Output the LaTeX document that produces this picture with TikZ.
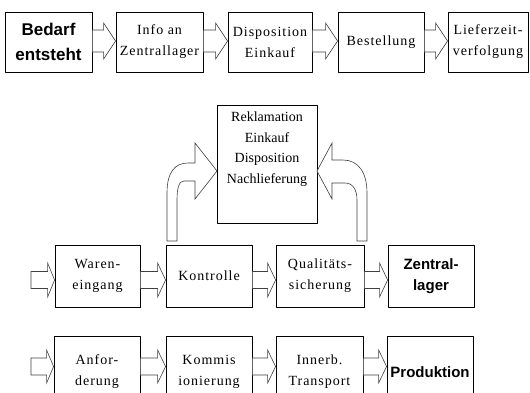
\documentclass[tikz,border=0pt]{standalone}
\usepackage{fontspec}
\setmainfont{Liberation Serif}
\newfontfamily\boxfont[LetterSpace=7]{Liberation Serif}
\newfontfamily\headfont{Liberation Sans}
\usetikzlibrary{calc}

\tikzset{
  procbox/.style={draw,line width=.8pt,fill=white,inner sep=0pt,align=center,
    minimum width=86pt,font=\boxfont\fontsize{14}{21}\selectfont},
  headbox/.style={procbox,font=\headfont\bfseries\fontsize{15}{21}\selectfont},
  arrowline/.style={draw=black!75,line width=.6pt,fill=white,line join=miter},
}

% block arrow: from, to, shaft half height, head half height, head length
\newcommand\blkarrow[5]{%
  \draw[arrowline] let \p1=(#1), \p2=(#2) in
    (\x1,\y2+#3pt) -- (\x2-#5pt,\y2+#3pt) -- (\x2-#5pt,\y2+#4pt) -- (\x2,\y2)
    -- (\x2-#5pt,\y2-#4pt) -- (\x2-#5pt,\y2-#3pt) -- (\x1,\y2-#3pt) -- cycle;}

\begin{document}
\begin{tikzpicture}[x=1pt,y=-1pt,line join=round]
  \path[use as bounding box] (0,0) rectangle (530,392);
  \clip (0,0) rectangle (530,392);

  % first row
  \node[headbox,minimum width=87pt,minimum height=60pt,
    font=\headfont\bfseries\fontsize{17}{25}\selectfont] (bedarf) at (48.5,42) {Bedarf\\entsteht};
  \node[procbox,minimum width=87pt,minimum height=60pt] (info) at (159.5,42) {Info an\\Zentrallager};
  \node[procbox,minimum width=84pt,minimum height=60pt] (dispo) at (270,42) {Disposition\\Einkauf};
  \node[procbox,minimum height=60pt] (bestell) at (381,42) {Bestellung};
  \node[procbox,minimum width=80pt,minimum height=60pt] (liefer) at (488,42) {Lieferzeit-\\verfolgung};

  \blkarrow{bedarf.east}{[yshift=1pt]info.west}{11}{18}{12}
  \blkarrow{info.east}{[yshift=1pt]dispo.west}{11}{18}{12}
  \blkarrow{dispo.east}{[yshift=1pt]bestell.west}{11}{18}{12}
  \blkarrow{bestell.east}{[yshift=1pt]liefer.west}{11}{18}{12}

  % complaint box
  \node[draw,line width=.8pt,fill=white,minimum width=100pt,minimum height=118pt] (rekl) at (267,164) {};
  \node[align=center,inner sep=0pt,font=\fontsize{14}{20.5}\selectfont,anchor=north]
    (rekltext) at (267,112) {Reklamation\\Einkauf\\Disposition\\Nachlieferung};

  % second row
  \coordinate (inwaren) at (31,280);
  \node[procbox,minimum width=85pt,minimum height=62pt] (waren) at (97.5,276) {Waren-\\eingang};
  \node[procbox,minimum height=62pt] (kontr) at (209,276) {Kontrolle};
  \node[procbox,minimum width=88pt,minimum height=62pt] (quali) at (320,276) {Qualitäts-\\sicherung};
  \node[headbox,minimum height=62pt] (zentral) at (431,276) {Zentral-\\lager};

  \blkarrow{inwaren}{[yshift=-4pt]waren.west}{8.5}{17}{7}
  \blkarrow{waren.east}{[yshift=-4pt]kontr.west}{8.5}{17}{8}
  \blkarrow{kontr.east}{[yshift=-4pt]quali.west}{8.5}{17}{8}
  \blkarrow{quali.east}{[yshift=-4pt]zentral.west}{8.5}{17}{8}

  \draw[arrowline] (167,241) -- (167,193) .. controls (167,172) and (175,163) .. (188,163)
    -- (195,163) -- (195,143) -- (217,171) -- (195,199) -- (195,181) -- (184,181)
    .. controls (179,181) and (177,188) .. (177,200) -- (177,241) -- cycle;
  \draw[arrowline] (367,241) -- (367,193) .. controls (367,172) and (358,160) .. (343,160)
    -- (332,160) -- (332,143) -- (317,171) -- (332,199) -- (332,183) -- (345,183)
    .. controls (353,183) and (357,190) .. (357,200) -- (357,241) -- cycle;

  % third row
  \coordinate (inanfor) at (31,366.5);
  \node[procbox,minimum height=72pt] (anfor) at (97,372) {Anfor-\\derung};
  \node[procbox,minimum height=72pt] (kommis) at (209,372) {Kommis\\ionierung};
  \node[procbox,minimum width=87pt,minimum height=72pt] (innerb) at (319.5,372) {Innerb.\\Transport};
  \node[headbox,minimum height=72pt] (prod) at (430,372) {Produktion};

  \blkarrow{inanfor}{[yshift=5.5pt]anfor.west}{8.5}{16.5}{7}
  \blkarrow{anfor.east}{[yshift=5.5pt]kommis.west}{8.5}{16.5}{8}
  \blkarrow{kommis.east}{[yshift=5.5pt]innerb.west}{8.5}{16.5}{8}
  \blkarrow{innerb.east}{[yshift=5.5pt]prod.west}{8.5}{16.5}{8}
\end{tikzpicture}
\end{document}
